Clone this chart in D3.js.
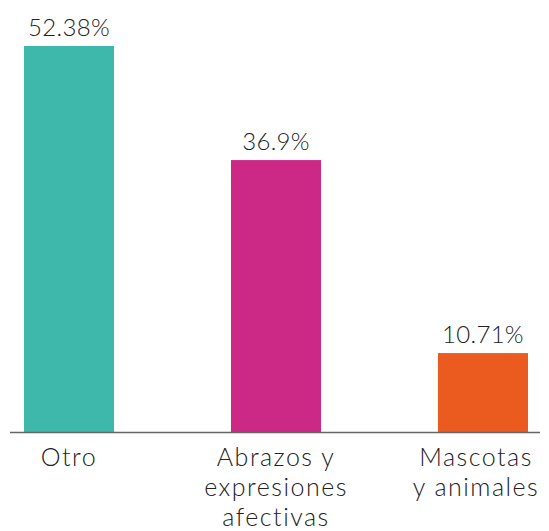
<!DOCTYPE html>
<html><head><meta charset="utf-8">
<script src="https://cdn.jsdelivr.net/npm/d3@7"></script>
<style>
html,body{margin:0;padding:0;background:#fff;}
svg{display:block;}
</style></head>
<body>
<svg id="chart" width="549" height="531"></svg>
<script>
const categories = ["Otro", "Abrazos y expresiones afectivas", "Mascotas y animales"];
const labelLines = [["Otro"], ["Abrazos y", "expresiones", "afectivas"], ["Mascotas", "y animales"]];
const values = [52.38, 36.9, 10.71];
const valueLabels = ["52.38%", "36.9%", "10.71%"];
const colors = ["#3db8aa", "#cc2986", "#eb5b20"];

const svg = d3.select("#chart");
const baseline = 432;
const x = d3.scaleBand().domain(categories).range([24, 528]).paddingInner(0.565).paddingOuter(0);
const y = d3.scaleLinear().domain([0, 52.38]).range([baseline, 46]);
const font = "Lato, 'Open Sans', sans-serif";

svg.selectAll("rect.bar").data(categories).join("rect")
  .attr("class", "bar")
  .attr("x", d => x(d))
  .attr("width", x.bandwidth())
  .attr("y", (d, i) => y(values[i]))
  .attr("height", (d, i) => baseline - y(values[i]))
  .attr("fill", (d, i) => colors[i]);

svg.append("line")
  .attr("x1", 10).attr("x2", 540)
  .attr("y1", baseline + 0.5).attr("y2", baseline + 0.5)
  .attr("stroke", "#666").attr("stroke-width", 1.5);

svg.selectAll("text.val").data(categories).join("text")
  .attr("class", "val")
  .attr("x", d => x(d) + x.bandwidth() / 2)
  .attr("y", (d, i) => y(values[i]) - 10)
  .attr("text-anchor", "middle")
  .attr("font-family", font)
  .attr("font-weight", 300)
  .attr("font-size", 24)
  .attr("letter-spacing", 0.3)
  .attr("fill", "#222")
  .text((d, i) => valueLabels[i]);

const cat = svg.selectAll("text.cat").data(categories).join("text")
  .attr("class", "cat")
  .attr("text-anchor", "middle")
  .attr("font-family", font)
  .attr("font-weight", 300)
  .attr("font-size", 25)
  .attr("letter-spacing", 1.5)
  .attr("fill", "#222");
cat.each(function(d, i) {
  const t = d3.select(this);
  labelLines[i].forEach((ln, j) => {
    t.append("tspan")
      .attr("x", x(d) + x.bandwidth() / 2 - (i === 2 ? 7 : 0))
      .attr("y", 466 + j * 30)
      .text(ln);
  });
});
</script>
</body></html>
